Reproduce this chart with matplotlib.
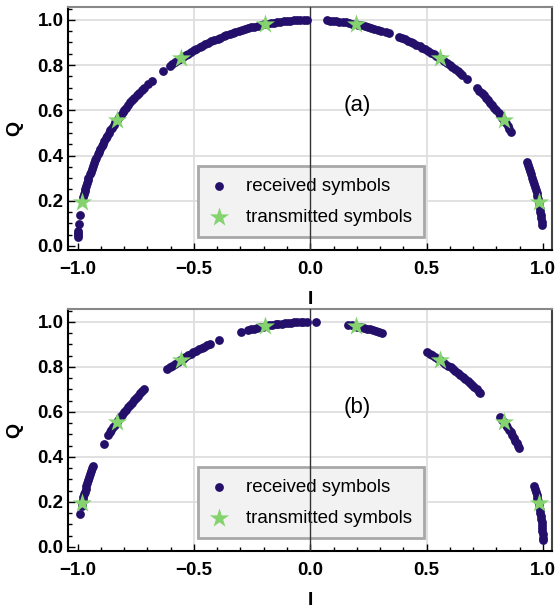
import numpy as np
import matplotlib.pyplot as plt
from matplotlib.ticker import MultipleLocator

plt.rcParams['font.family'] = ['Liberation Sans', 'DejaVu Sans']

# transmitted 16-PSK symbols (upper half), phase in degrees
tx_deg = [11.25, 33.75, 56.25, 78.75, 101.25, 123.75, 146.25, 168.75]

# received symbol phases (degrees), case (a)
rx_deg_a = [
    177.8, 177.3, 176.8, 176.2, 174.5, 172.2,
    167.5, 166.8, 166.0, 165.3, 164.5, 163.9, 163.0, 162.4, 161.5, 160.8,
    160.1, 159.2, 158.5, 157.7, 157.0, 156.1, 155.4, 154.6, 153.8, 153.1,
    152.3, 151.5, 150.8, 150.0, 149.2, 148.5, 147.6, 146.9, 146.2, 145.3,
    144.6, 143.8, 143.0, 142.3, 141.5, 140.6, 139.9, 139.1, 138.2, 137.4,
    136.5, 135.6, 134.3, 133.0, 129.2,
    127.2, 126.5, 125.7, 124.8, 124.1, 123.3, 122.4, 121.7, 120.8, 120.0,
    119.3, 118.4, 117.6, 116.9, 116.0, 115.2, 114.4, 113.5, 112.8, 111.9,
    111.2, 110.3, 109.5, 108.8, 107.9, 107.1, 106.4, 105.5, 104.7, 103.9,
    103.0, 102.3, 101.5, 100.6, 99.8, 99.0, 98.2, 97.4, 96.5, 95.8, 94.9,
    94.1, 93.3, 92.5, 91.6, 90.9,
    86.0, 85.2, 84.5, 83.7, 82.9, 82.0, 81.3, 80.5, 79.6, 78.8, 78.1, 77.3,
    76.4, 75.6, 74.8, 74.0, 73.2, 72.3, 71.0, 70.2,
    67.7, 66.9, 66.1, 65.3, 64.4, 63.7, 62.9, 62.0, 61.2, 60.5, 59.6, 58.8,
    58.0, 57.2, 56.3, 55.6, 54.8, 53.9, 53.1, 52.4, 51.5, 50.7, 49.9, 49.2,
    47.6,
    44.2, 43.4, 42.6, 41.8, 41.0, 40.1, 39.3, 38.5, 37.7, 36.9, 36.0, 35.3,
    34.5, 33.6, 32.8, 32.0, 31.2, 30.4,
    21.7, 20.9, 20.1, 19.3, 18.5, 17.6, 16.8, 16.0, 15.2, 14.4, 13.5, 12.7,
    11.9, 11.1, 10.3, 9.4, 8.6, 7.8, 7.0, 6.2, 5.4,
]

# received symbol phases (degrees), case (b)
rx_deg_b = [
    171.6,
    169.5, 168.8, 168.0, 167.3, 166.5, 165.8, 165.0, 164.2, 163.5, 162.7,
    161.9, 161.2, 160.4, 159.6, 158.9,
    152.7,
    150.2, 149.4, 148.7, 147.9, 147.1, 146.3, 145.6, 144.8, 144.0, 143.2,
    142.5, 141.7, 140.9, 140.1, 139.4, 138.6, 137.8, 137.0, 136.3, 135.5,
    127.9, 127.1, 126.4, 125.6, 124.8, 124.0, 123.3, 122.5, 121.7, 120.9,
    120.2, 119.4, 118.6, 117.8, 117.1, 116.3, 115.5, 113.0,
    107.2,
    105.6, 104.8, 104.1, 103.3, 102.5, 101.7, 101.0, 100.2, 99.4, 98.6,
    97.9, 97.1, 96.3, 95.5, 94.8, 94.0, 93.2, 92.4, 91.7, 90.9,
    88.6,
    80.6, 79.8, 79.1, 78.3, 77.5, 76.7, 76.0, 75.2, 74.4, 73.6, 72.9, 72.1,
    59.9, 59.1, 58.4, 57.6, 56.8, 56.0, 55.3, 54.5, 53.7, 52.9, 52.2, 51.4,
    50.6, 49.8, 49.1, 48.3, 47.5, 46.7, 46.0, 45.2, 44.4, 43.6, 43.2,
    35.2, 34.4, 33.7, 32.9, 32.1, 31.3, 30.6, 29.8, 29.0, 28.2, 27.5, 26.7,
    26.0,
    15.6, 14.8, 14.1, 13.3, 12.5, 11.7, 11.0, 10.2, 9.4, 8.6, 7.9, 7.1, 6.3,
    5.5, 4.8, 4.0, 3.2, 2.4, 1.8,
]

panel_tags = ['(a)', '(b)']
rx_color = '#24106a'
tx_color = '#84d36e'

fig = plt.figure(figsize=(5.58, 6.09), dpi=100)
ax_a = fig.add_axes([0.1224, 0.5895, 0.8674, 0.3990])
ax_b = fig.add_axes([0.1224, 0.0952, 0.8674, 0.3974])

tx = np.deg2rad(tx_deg)
for ax, rx_deg, tag in zip([ax_a, ax_b], [rx_deg_a, rx_deg_b], panel_tags):
    rx = np.deg2rad(rx_deg)

    # light grid at the major ticks, black axis line at I = 0
    for g in [-0.5, 0.5]:
        ax.axvline(g, color='#dedede', lw=1.3, zorder=0.5)
    for g in [0.2, 0.4, 0.6, 0.8, 1.0]:
        ax.axhline(g, color='#dedede', lw=1.3, zorder=0.5)
    ax.axvline(0, color='#333333', lw=1.0, zorder=3)

    ax.scatter(np.cos(rx), np.sin(rx), s=40, color=rx_color,
               linewidths=0, zorder=4, label='received symbols')
    ax.scatter(np.cos(tx), np.sin(tx), s=210, marker='*', color=tx_color,
               linewidths=0, zorder=5, label='transmitted symbols')

    ax.set_xlim(-1.04, 1.04)
    ax.set_ylim(-0.018, 1.057)
    ax.xaxis.set_major_locator(MultipleLocator(0.5))
    ax.xaxis.set_minor_locator(MultipleLocator(0.1))
    ax.yaxis.set_major_locator(MultipleLocator(0.2))
    ax.yaxis.set_minor_locator(MultipleLocator(0.05))
    ax.tick_params(which='both', direction='in', top=False, right=False,
                   width=1.0, color='black')
    ax.tick_params(which='major', length=5)
    ax.tick_params(which='minor', length=3)
    ax.tick_params(axis='x', pad=8, labelsize=13.5)
    ax.tick_params(axis='y', pad=3.5, labelsize=13.5)
    for lbl in ax.get_xticklabels() + ax.get_yticklabels():
        lbl.set_fontweight('bold')

    ax.spines['left'].set_color('black')
    ax.spines['bottom'].set_color('black')
    ax.spines['top'].set_color('#888888')
    ax.spines['right'].set_color('#444444')
    for sp in ax.spines.values():
        sp.set_linewidth(1.5)

    ax.set_xlabel('I', fontsize=14, fontweight='bold', labelpad=9)
    ax.set_ylabel('Q', fontsize=14, fontweight='bold', labelpad=10)

    ax.text(0.2, 0.62, tag, fontsize=16, ha='center', va='center')

    leg = ax.legend(loc='lower left', bbox_to_anchor=(0.267, 0.053),
                    fontsize=13.5, fancybox=False, framealpha=1,
                    facecolor='#f2f2f2', edgecolor='#a8a8a8',
                    handlelength=1.1, handletextpad=0.9, borderpad=0.6,
                    labelspacing=0.75, borderaxespad=0)
    leg.get_frame().set_linewidth(2)
    leg.set_zorder(2)

fig.savefig('out.png', dpi=100)
